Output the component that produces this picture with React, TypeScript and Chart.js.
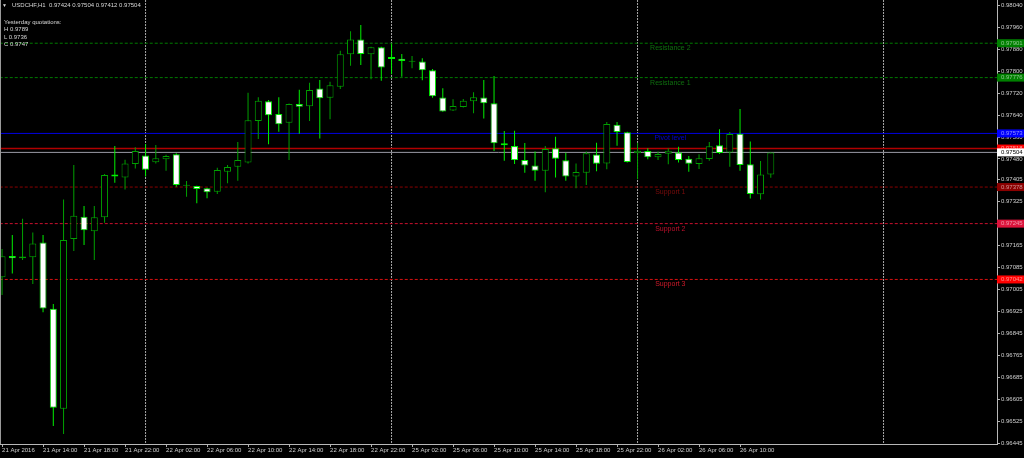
import React, { useEffect, useRef } from "react";
import { Chart, registerables } from "chart.js";
Chart.register(...registerables);

const SYMBOL = "USDCHF,H1";
const TIME_LABEL_BARS = [0, 4, 8, 12, 16, 20, 24, 28, 32, 36, 40, 44, 48, 52, 56, 60, 64, 68, 72];
const TIME_LABELS = [
  "21 Apr 2016", "21 Apr 14:00", "21 Apr 18:00", "21 Apr 22:00", "22 Apr 02:00", "22 Apr 06:00",
  "22 Apr 10:00", "22 Apr 14:00", "22 Apr 18:00", "22 Apr 22:00", "25 Apr 02:00", "25 Apr 06:00",
  "25 Apr 10:00", "25 Apr 14:00", "25 Apr 18:00", "25 Apr 22:00", "26 Apr 02:00", "26 Apr 06:00",
  "26 Apr 10:00",
];
const SEPARATOR_BARS = [14, 38, 62, 86];

const OPEN = [
  0.97050, 0.97127, 0.97119, 0.97123, 0.97176, 0.96935, 0.96572, 0.97189, 0.97270, 0.97217,
  0.97268, 0.97424, 0.97413, 0.97462, 0.97493, 0.97468, 0.97479, 0.97497, 0.97383, 0.97382,
  0.97374, 0.97361, 0.97434, 0.97452, 0.97467, 0.97618, 0.97690, 0.97644, 0.97612, 0.97680,
  0.97672, 0.97736, 0.97703, 0.97743, 0.97861, 0.97915, 0.97861, 0.97886, 0.97851, 0.97845,
  0.97834, 0.97835, 0.97803, 0.97704, 0.97656, 0.97669, 0.97690, 0.97704, 0.97683, 0.97537,
  0.97527, 0.97476, 0.97456, 0.97437, 0.97519, 0.97475, 0.97416, 0.97430, 0.97496, 0.97464,
  0.97605, 0.97577, 0.97501, 0.97509, 0.97486, 0.97499, 0.97504, 0.97481, 0.97462, 0.97480,
  0.97530, 0.97504, 0.97572, 0.97461, 0.97352, 0.97424,
];
const HIGH = [
  0.97153, 0.97204, 0.97263, 0.97213, 0.97204, 0.96953, 0.97333, 0.97458, 0.97309, 0.97309,
  0.97425, 0.97527, 0.97477, 0.97523, 0.97535, 0.97531, 0.97495, 0.97501, 0.97400, 0.97383,
  0.97375, 0.97448, 0.97458, 0.97542, 0.97721, 0.97705, 0.97695, 0.97705, 0.97682, 0.97732,
  0.97757, 0.97767, 0.97761, 0.97874, 0.97945, 0.97967, 0.97888, 0.97888, 0.97898, 0.97862,
  0.97855, 0.97846, 0.97807, 0.97737, 0.97697, 0.97698, 0.97723, 0.97767, 0.97782, 0.97582,
  0.97583, 0.97538, 0.97507, 0.97527, 0.97561, 0.97503, 0.97464, 0.97507, 0.97539, 0.97615,
  0.97615, 0.97579, 0.97539, 0.97519, 0.97507, 0.97519, 0.97525, 0.97491, 0.97497, 0.97542,
  0.97588, 0.97578, 0.97662, 0.97544, 0.97473, 0.97504,
];
const LOW = [
  0.96985, 0.97064, 0.97113, 0.97025, 0.96923, 0.96509, 0.96480, 0.97145, 0.97167, 0.97113,
  0.97248, 0.97394, 0.97369, 0.97445, 0.97416, 0.97464, 0.97437, 0.97379, 0.97343, 0.97319,
  0.97337, 0.97353, 0.97392, 0.97401, 0.97464, 0.97553, 0.97534, 0.97579, 0.97476, 0.97572,
  0.97618, 0.97555, 0.97625, 0.97735, 0.97819, 0.97822, 0.97770, 0.97765, 0.97788, 0.97779,
  0.97810, 0.97766, 0.97703, 0.97652, 0.97655, 0.97667, 0.97646, 0.97627, 0.97509, 0.97474,
  0.97462, 0.97430, 0.97401, 0.97359, 0.97413, 0.97401, 0.97374, 0.97385, 0.97435, 0.97443,
  0.97528, 0.97467, 0.97406, 0.97479, 0.97476, 0.97461, 0.97467, 0.97434, 0.97444, 0.97474,
  0.97498, 0.97452, 0.97437, 0.97336, 0.97333, 0.97412,
];
const CLOSE = [
  0.97126, 0.97119, 0.97125, 0.97173, 0.96936, 0.96575, 0.97185, 0.97274, 0.97221, 0.97268,
  0.97422, 0.97416, 0.97464, 0.97509, 0.97441, 0.97483, 0.97491, 0.97385, 0.97386, 0.97371,
  0.97359, 0.97440, 0.97451, 0.97476, 0.97621, 0.97692, 0.97639, 0.97606, 0.97680, 0.97670,
  0.97731, 0.97701, 0.97748, 0.97861, 0.97915, 0.97862, 0.97886, 0.97813, 0.97844, 0.97836,
  0.97837, 0.97803, 0.97708, 0.97653, 0.97673, 0.97692, 0.97705, 0.97683, 0.97537, 0.97530,
  0.97476, 0.97456, 0.97437, 0.97516, 0.97481, 0.97416, 0.97433, 0.97501, 0.97463, 0.97607,
  0.97578, 0.97469, 0.97510, 0.97486, 0.97498, 0.97510, 0.97476, 0.97463, 0.97483, 0.97526,
  0.97502, 0.97571, 0.97458, 0.97353, 0.97424, 0.97504,
];

const Y_TICKS = [
  0.98040, 0.97960, 0.97880, 0.97800, 0.97720, 0.97640, 0.97560, 0.97480, 0.97405, 0.97325,
  0.97245, 0.97165, 0.97085, 0.97005, 0.96925, 0.96845, 0.96765, 0.96685, 0.96605, 0.96525, 0.96445,
];
const Y_MIN = 0.964436;
const Y_MAX = 0.980582;
const X_MIN = -0.2;
const X_MAX = 97.07;

const LEVEL_NAMES = ["Resistance 2", "Resistance 1", "Pivot level", "Support 1", "Support 2", "Support 3"];
const LEVEL_VALUES = [0.97901, 0.97776, 0.97573, 0.97378, 0.97245, 0.97042];
const LEVEL_LINE_COLORS = ["#007a00", "#007a00", "#0000e0", "#8b0000", "#c8102e", "#d81010"];
const LEVEL_TEXT_COLORS = ["#0f6e0f", "#0f6e0f", "#0000d0", "#7a0c0c", "#c0102c", "#d01a2a"];
const LEVEL_BOX_COLORS = ["#008000", "#008000", "#0000ff", "#8b0000", "#dc143c", "#ff0000"];
const LEVEL_DASHED = [true, true, false, true, true, true];
const LEVEL_LABEL_BAR = 65.2;
const ASK = 0.97518;
const BID = CLOSE[CLOSE.length - 1];

const YESTERDAY_TITLE = "Yesterday quotations:";
const YESTERDAY_KEYS = ["H", "L", "C"];
const YESTERDAY_VALUES = ["0.9789", "0.9736", "0.9747"];

const FONT = '"Liberation Sans", Arial, sans-serif';

export default function App() {
  const ref = useRef<HTMLCanvasElement>(null);

  useEffect(() => {
    document.body.style.margin = "0";
    document.body.style.background = "#000";
    const canvas = ref.current!;
    const n = OPEN.length;
    const bull = OPEN.map((o, i) => CLOSE[i] >= o);
    const bullColor = "#00a000";
    const bearColor = "#00f000";

    const wicks = {
      type: "bar" as const,
      label: "wicks",
      data: OPEN.map((_, i) => ({ x: i, y: [LOW[i], HIGH[i]] })),
      backgroundColor: bull.map((b) => (b ? bullColor : bearColor)),
      borderWidth: 0,
      barThickness: 1,
      grouped: false,
      inflateAmount: 0,
      order: 1,
    };
    const bodies = {
      type: "bar" as const,
      label: "bodies",
      data: OPEN.map((o, i) => ({ x: i, y: [o, CLOSE[i]] })),
      backgroundColor: bull.map((b) => (b ? "#000000" : "#ffffff")),
      borderColor: bull.map((b) => (b ? bullColor : bearColor)),
      borderWidth: 1,
      borderSkipped: false,
      barThickness: 7,
      grouped: false,
      inflateAmount: 0,
      order: 0,
    };
    const levelLines = LEVEL_VALUES.map((v, i) => ({
      type: "line" as const,
      label: LEVEL_NAMES[i],
      data: [{ x: X_MIN - 1, y: v }, { x: X_MAX + 1, y: v }],
      borderColor: LEVEL_LINE_COLORS[i],
      borderWidth: 1,
      borderDash: LEVEL_DASHED[i] ? [3, 2] : [],
      pointRadius: 0,
      order: 5,
    }));
    const askLine = {
      type: "line" as const,
      label: "ask",
      data: [{ x: X_MIN - 1, y: ASK }, { x: X_MAX + 1, y: ASK }],
      borderColor: "#b00000",
      borderWidth: 1.5,
      pointRadius: 0,
      order: 4,
    };
    const bidLine = {
      type: "line" as const,
      label: "bid",
      data: [{ x: X_MIN - 1, y: BID }, { x: X_MAX + 1, y: BID }],
      borderColor: "#9a9aa6",
      borderWidth: 1,
      pointRadius: 0,
      order: 4,
    };
    const separators = SEPARATOR_BARS.map((b) => ({
      type: "line" as const,
      label: "sep",
      data: [{ x: b, y: Y_MIN - 0.01 }, { x: b, y: Y_MAX + 0.01 }],
      borderColor: "#a8a8a8",
      borderWidth: 1,
      borderDash: [2, 1],
      pointRadius: 0,
      order: 6,
    }));

    const overlay = {
      id: "overlay",
      afterDraw(chart: any) {
        const ctx = chart.ctx;
        const xs = chart.scales.x;
        const ys = chart.scales.y;
        const ca = chart.chartArea;
        ctx.save();
        // left frame line
        ctx.strokeStyle = "#9a9a9a";
        ctx.lineWidth = 1;
        ctx.beginPath();
        ctx.moveTo(0.5, ca.top);
        ctx.lineTo(0.5, ca.bottom);
        ctx.stroke();
        // level names
        ctx.font = `7px ${FONT}`;
        ctx.textAlign = "center";
        ctx.textBaseline = "middle";
        LEVEL_NAMES.forEach((name, i) => {
          ctx.fillStyle = LEVEL_TEXT_COLORS[i];
          ctx.fillText(name, xs.getPixelForValue(LEVEL_LABEL_BAR), ys.getPixelForValue(LEVEL_VALUES[i]) + 5);
        });
        // price boxes on the right axis
        ctx.font = `6px ${FONT}`;
        ctx.textAlign = "left";
        const box = (v: number, bg: string, fg: string) => {
          const py = ys.getPixelForValue(v);
          ctx.fillStyle = bg;
          ctx.fillRect(ca.right, py - 4, chart.width - ca.right, 8);
          ctx.fillStyle = fg;
          ctx.fillText(v.toFixed(5), ca.right + 4, py);
        };
        LEVEL_VALUES.forEach((v, i) => box(v, LEVEL_BOX_COLORS[i], "rgba(255,255,255,0.55)"));
        box(ASK, "#ff0000", "rgba(255,255,255,0.6)");
        box(BID, "#ffffff", "#000000");
        ctx.restore();
      },
    };

    const chart = new Chart(canvas, {
      type: "bar",
      data: { datasets: [bodies, wicks, ...levelLines, askLine, bidLine, ...separators] as any },
      options: {
        responsive: false,
        devicePixelRatio: 1,
        animation: false,
        events: [],
        layout: { padding: 0 },
        plugins: { legend: { display: false }, tooltip: { enabled: false } },
        scales: {
          x: {
            type: "linear",
            min: X_MIN,
            max: X_MAX,
            offset: false,
            afterBuildTicks: (s: any) => {
              s.ticks = TIME_LABEL_BARS.map((v) => ({ value: v }));
            },
            afterFit: (s: any) => {
              s.height = 14;
              s.paddingLeft = 0;
              s.paddingRight = 0;
            },
            ticks: {
              autoSkip: false,
              maxRotation: 0,
              minRotation: 0,
              align: "start",
              padding: 0,
              color: "#d0d0d0",
              font: { family: FONT, size: 6 },
              callback: (_v: any, i: number) => TIME_LABELS[i],
            },
            grid: { display: true, drawOnChartArea: false, drawTicks: true, tickLength: 3, color: "#b0b0b0", offset: false },
            border: { display: true, color: "#b8b8b8" },
          },
          y: {
            type: "linear",
            position: "right",
            min: Y_MIN,
            max: Y_MAX,
            beginAtZero: false,
            afterBuildTicks: (s: any) => {
              s.ticks = Y_TICKS.map((v) => ({ value: v }));
            },
            afterFit: (s: any) => {
              s.width = 27;
              s.paddingTop = 0;
              s.paddingBottom = 0;
            },
            ticks: {
              padding: 1,
              color: "#d0d0d0",
              font: { family: FONT, size: 6 },
              callback: (v: any) => Number(v).toFixed(5),
            },
            grid: { display: true, drawOnChartArea: false, drawTicks: true, tickLength: 3, color: "#b0b0b0" },
            border: { display: true, color: "#b8b8b8" },
          },
        },
      } as any,
      plugins: [overlay],
    });
    return () => chart.destroy();
  }, []);

  const n = OPEN.length - 1;
  const header = `${SYMBOL}  ${OPEN[n].toFixed(5)} ${HIGH[n].toFixed(5)} ${LOW[n].toFixed(5)} ${CLOSE[n].toFixed(5)}`;
  const textStyle: React.CSSProperties = {
    position: "absolute",
    fontFamily: FONT,
    fontSize: "6px",
    color: "#d8d8d8",
    whiteSpace: "pre",
    lineHeight: "7.5px",
  };

  return (
    <div style={{ position: "relative", width: 1024, height: 458, background: "#000", overflow: "hidden" }}>
      <canvas ref={ref} width={1024} height={458} style={{ display: "block", width: 1024, height: 458 }} />
      <div style={{ ...textStyle, left: 2, top: 2, fontSize: "5px" }}>▼</div>
      <div style={{ ...textStyle, left: 12, top: 2.25 }}>{header}</div>
      <div style={{ ...textStyle, left: 4, top: 18.75 }}>
        {YESTERDAY_TITLE}
        {YESTERDAY_KEYS.map((k, i) => `\n${k} ${YESTERDAY_VALUES[i]}`).join("")}
      </div>
    </div>
  );
}
